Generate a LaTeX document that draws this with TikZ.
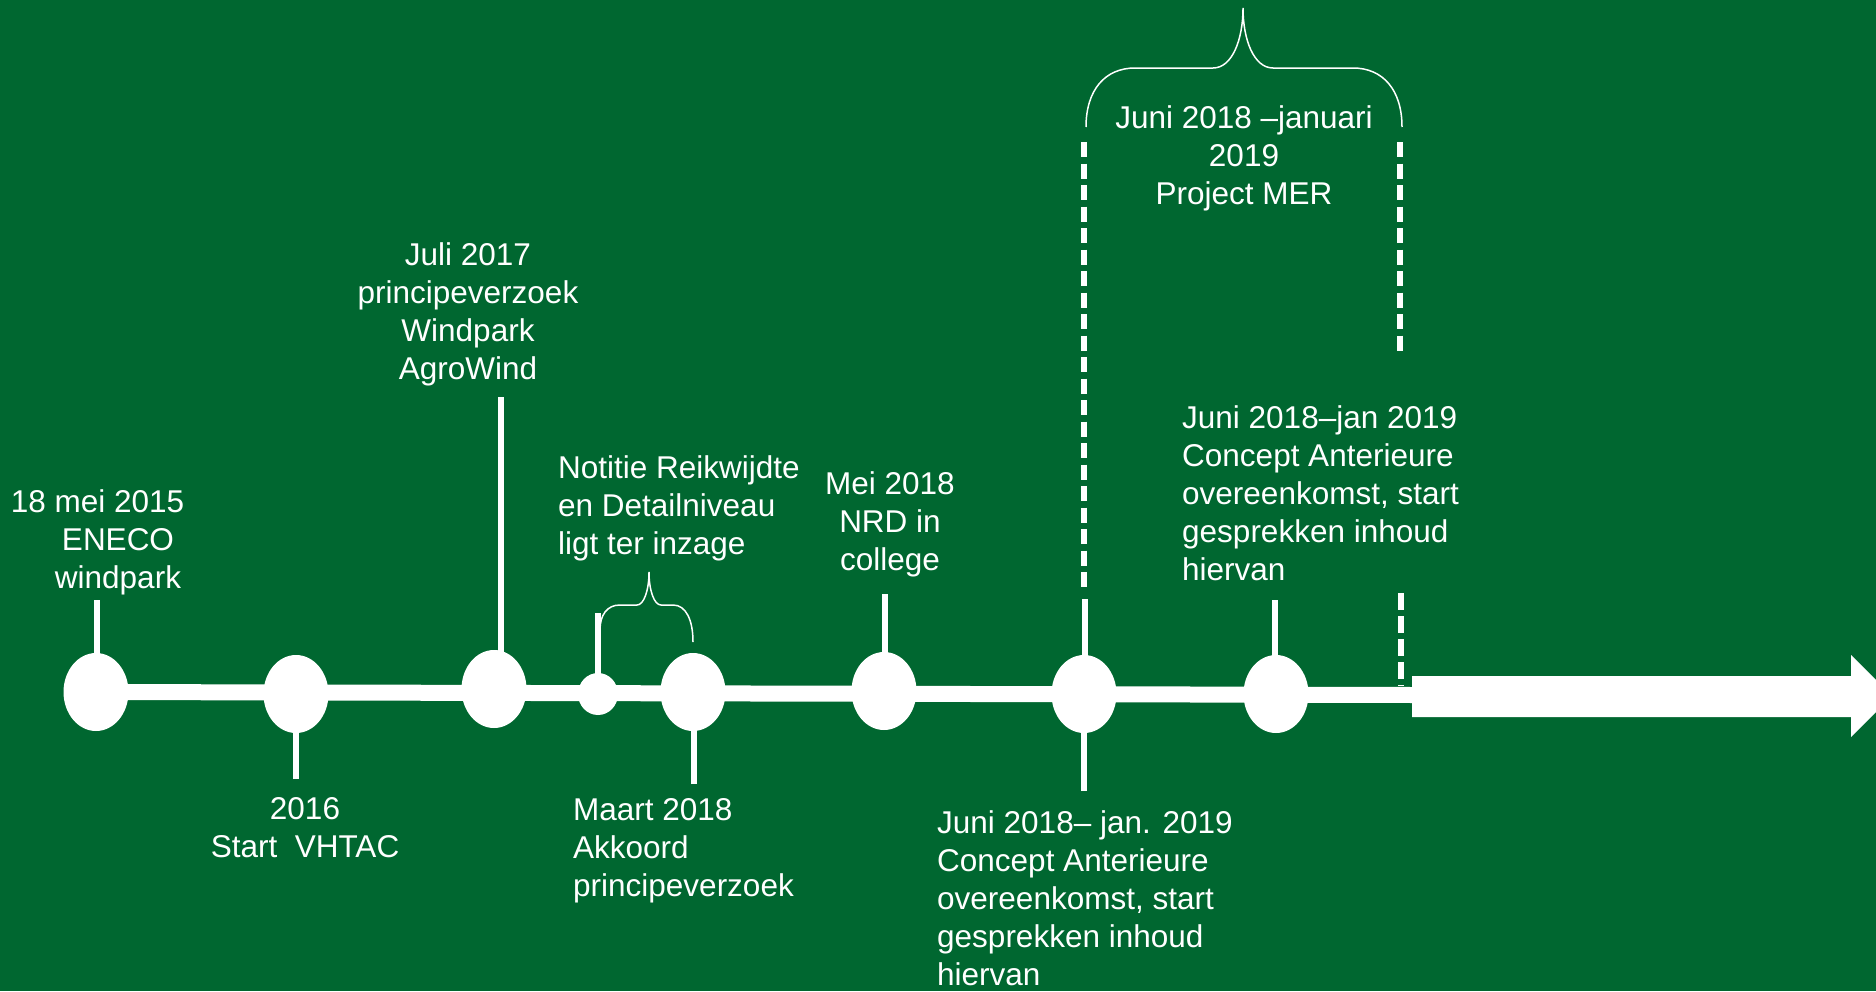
\documentclass[tikz,border=0pt]{standalone}
\usepackage{fontspec}
\setmainfont{Liberation Sans}
\usetikzlibrary{shapes.geometric}
\definecolor{bggreen}{RGB}{0,103,48}
\begin{document}
\begin{tikzpicture}[x=1pt,y=-1pt,
  dot/.style={ellipse,fill=white,draw=none,minimum width=65pt,minimum height=78pt,inner sep=0pt},
  smalldot/.style={ellipse,fill=white,draw=none,minimum width=40pt,minimum height=42pt,inner sep=0pt},
  tick/.style={white,line width=6pt},
  mainline/.style={white,line width=16pt},
  dashline/.style={white,line width=6pt,dash pattern=on 15pt off 6.5pt},
  dashlineb/.style={white,line width=6pt,dash pattern=on 17pt off 6pt},
  bracepath/.style={white,line width=1.5pt},
  lbl/.style={text=white,inner sep=0pt,font=\fontsize{31.5}{38}\selectfont},
]
\fill[bggreen] (0,0) rectangle (1876,991);
\useasboundingbox (0,0) rectangle (1876,991);

% timeline dots
\node[dot] (e1) at (96,692) {};
\node[dot] (e2) at (296,694) {};
\node[dot] (e3) at (494,689) {};
\node[smalldot] (es) at (598,694) {};
\node[dot] (e5) at (693,692) {};
\node[dot] (e6) at (884,691) {};
\node[dot] (e7) at (1084,694) {};
\node[dot] (e8) at (1276,694) {};

% main line and arrow
\coordinate (lineend) at (1415,695);
\draw[mainline] (e1.center) -- (lineend);
\fill[white] (1412,676) -- (1851,676) -- (1851,655) -- (1892,696) -- (1851,737) -- (1851,717) -- (1412,717) -- cycle;

% ticks
\coordinate (t1) at (97,600);
\coordinate (t2) at (296,779);
\coordinate (t3) at (501,397);
\coordinate (ts) at (598,613);
\coordinate (t5) at (694,784);
\coordinate (t6) at (885,594);
\coordinate (t7a) at (1085,599);
\coordinate (t7b) at (1084,791);
\coordinate (t8) at (1275,600);
\draw[tick] (t1) -- (t1 |- e1.center);
\draw[tick] (t2) -- (t2 |- e2.center);
\draw[tick] (t3) -- (t3 |- e3.center);
\draw[tick] (ts) -- (ts |- es.center);
\draw[tick] (t5) -- (t5 |- e5.center);
\draw[tick] (t6) -- (t6 |- e6.center);
\draw[tick] (t7a) -- (t7a |- e7.center);
\draw[tick] (t7b) -- (t7b |- e7.center);
\draw[tick] (t8) -- (t8 |- e8.center);

% dashed lines
\coordinate (d1top) at (1084,142);
\coordinate (d1bot) at (1084,592);
\coordinate (d2top) at (1400,142);
\coordinate (d2bot) at (1400,351);
\coordinate (d3top) at (1401,593);
\coordinate (d3bot) at (1401,686);
\draw[dashline] (d1top) -- (d1bot);
\draw[dashline] (d2top) -- (d2bot);
\draw[dashlineb] (d3top) -- (d3bot);

% braces
\draw[bracepath] (1086,127) .. controls (1086,90) and (1105,68) .. (1135,68) -- (1213,68)
  .. controls (1232,68) and (1243,40) .. (1243,8)
  .. controls (1243,40) and (1254,68) .. (1273,68) -- (1353,68)
  .. controls (1383,68) and (1402,90) .. (1402,127);
\draw[bracepath] (600,630) .. controls (600,615) and (607,605) .. (620,605) -- (637,605)
  .. controls (644,605) and (649,590) .. (649,572)
  .. controls (649,590) and (654,605) .. (661,605) -- (673,605)
  .. controls (686,605) and (693,620) .. (693,642);

% labels
\node[lbl,align=center,anchor=north] (tA) at (118,489.4) {18 mei 2015\hspace*{41pt}\\ENECO\\windpark};
\node[lbl,align=center,anchor=north] (tB) at (305,797.4) {2016\\Start\ \ VHTAC};
\node[lbl,align=center,anchor=north] (tC) at (468,242.4) {Juli 2017\\principeverzoek\\Windpark\\AgroWind};
\node[lbl,align=left,anchor=north west] (tD) at (558,455.4) {Notitie Reikwijdte\\en Detailniveau\\ligt ter inzage};
\node[lbl,align=left,anchor=north west] (tE) at (573,798.4) {Maart 2018\\Akkoord\\principeverzoek};
\node[lbl,align=center,anchor=north] (tF) at (890,471.4) {Mei 2018\\NRD in\\college};
\node[lbl,align=left,anchor=north west] (tG) at (937,810.4) {Juni 2018-- jan. 2019\\Concept Anterieure\\overeenkomst, start\\gesprekken inhoud\\hiervan};
\node[lbl,align=left,anchor=north west] (tH) at (1182,405.4) {Juni 2018--jan 2019\\Concept Anterieure\\overeenkomst, start\\gesprekken inhoud\\hiervan};
\node[lbl,align=center,anchor=north] (tI) at (1244,105.4) {Juni 2018 --januari\\2019\\Project MER};
\end{tikzpicture}
\end{document}
